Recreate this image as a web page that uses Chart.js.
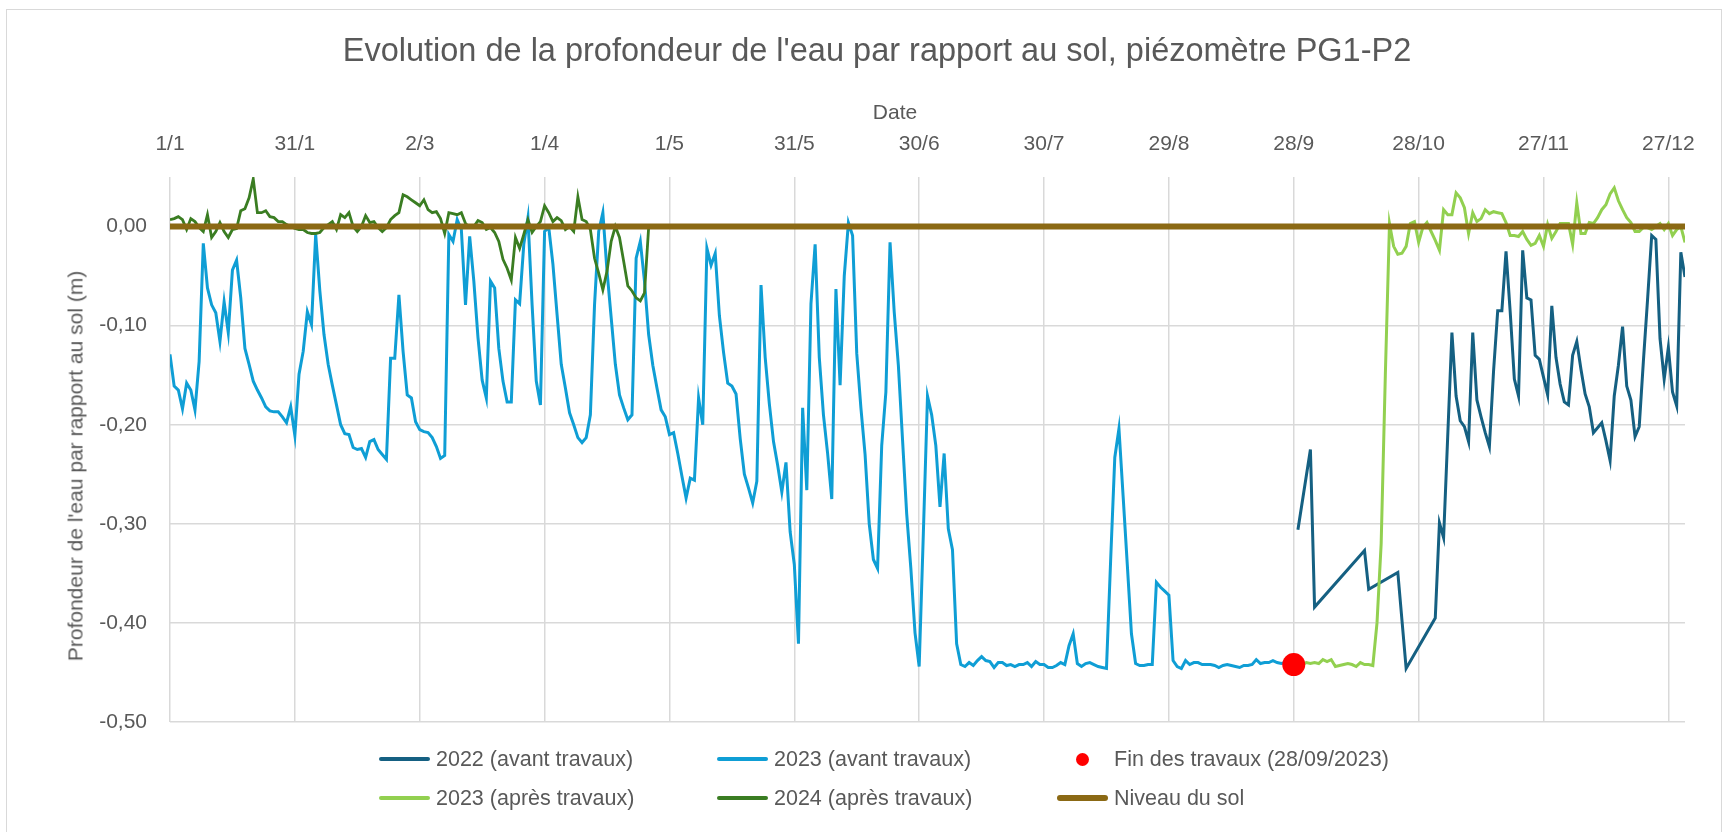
<!DOCTYPE html>
<html lang="fr">
<head>
  <meta charset="UTF-8" />
  <title>Piézomètre PG1-P2 – profondeur de l'eau</title>
  <script src="https://cdn.jsdelivr.net/npm/chart.js"></script>
  <style>
    html, body { margin: 0; padding: 0; background: #fff; }
    body {
      width: 1728px; height: 832px; overflow: hidden; position: relative;
      font-family: "Liberation Sans", Arial, sans-serif; color: #595959;
    }
    #frame {
      position: absolute; left: 6px; top: 9px; width: 1716px; height: 840px;
      border: 1.5px solid #d9d9d9; box-sizing: border-box;
    }
    #chart { position: absolute; left: 0; top: 0; }
    .lbl { position: absolute; white-space: nowrap; line-height: 1; transform: translate(-50%, -50%); }
    #title { left: 877px; top: 50px; font-size: 32.5px; }
    #xTitle { left: 895px; top: 111px; font-size: 21px; }
    #yTitle { left: 75px; top: 466px; font-size: 21px; transform: translate(-50%, -50%) rotate(-90deg); }
    .leg { position: absolute; height: 26px; display: flex; align-items: center; font-size: 21.5px; white-space: nowrap; }
    .sw { width: 51px; display: flex; align-items: center; justify-content: center; margin-right: 6px; }
    .sw span { display: block; }
  </style>
</head>
<body>
  <div id="frame"></div>
  <canvas id="chart" width="1728" height="832"></canvas>
  <div id="title" class="lbl">Evolution de la profondeur de l'eau par rapport au sol, piézomètre PG1-P2</div>
  <div id="xTitle" class="lbl">Date</div>
  <div id="yTitle" class="lbl">Profondeur de l'eau par rapport au sol (m)</div>
  <div id="legend"></div>

  <script>
    // ---- data (x = day of year) ----
    const xTickDays = [1, 31, 61, 91, 121, 151, 181, 211, 241, 271, 301, 331, 361];
    const xTickLabels = ['1/1', '31/1', '2/3', '1/4', '1/5', '31/5', '30/6', '30/7', '29/8', '28/9', '28/10', '27/11', '27/12'];
    const yTickValues = [0, -0.1, -0.2, -0.3, -0.4, -0.5];
    const yTickLabels = ['0,00', '-0,10', '-0,20', '-0,30', '-0,40', '-0,50'];

    // 2022 (avant travaux) – sparse readings
    const avant2022Days = [272, 275, 276, 288, 289, 296, 298, 305, 306, 307, 309, 310, 311, 312, 313, 314, 315, 316, 317, 318,
      319, 320, 321, 322, 323, 324, 325, 326, 327, 328, 329, 330, 331, 332, 333, 334, 335, 336, 337, 338,
      339, 340, 341, 342, 343, 344, 345, 346, 347, 348, 349, 350, 351, 352, 353, 354, 355, 356, 357, 358,
      359, 360, 361, 362, 363, 364, 365];
    const avant2022Vals = [-0.306, -0.225, -0.384, -0.327, -0.366, -0.349, -0.446, -0.395, -0.299, -0.314, -0.107, -0.171, -0.196, -0.202, -0.217, -0.107, -0.175, -0.192, -0.208, -0.222,
      -0.146, -0.085, -0.085, -0.025, -0.086, -0.154, -0.171, -0.024, -0.072, -0.074, -0.130, -0.134, -0.152, -0.170, -0.080, -0.132, -0.159, -0.177, -0.180, -0.130,
      -0.116, -0.144, -0.169, -0.182, -0.208, -0.203, -0.198, -0.216, -0.236, -0.171, -0.140, -0.101, -0.161, -0.175, -0.212, -0.202, -0.136, -0.074, -0.009, -0.013,
      -0.113, -0.154, -0.122, -0.167, -0.181, -0.026, -0.051];

    // 2023 (avant travaux) – daily from day 1 to day 271
    const avant2023Start = 1;
    const avant2023Vals = [
      -0.129, -0.161, -0.165, -0.184, -0.158, -0.165, -0.185, -0.136, -0.017, -0.062,
      -0.079, -0.087, -0.116, -0.076, -0.107, -0.044, -0.034, -0.072, -0.123, -0.139,
      -0.156, -0.165, -0.173, -0.182, -0.186, -0.187, -0.187, -0.192, -0.198, -0.182,
      -0.211, -0.149, -0.126, -0.086, -0.099, -0.008, -0.065, -0.109, -0.139, -0.160,
      -0.180, -0.200, -0.209, -0.210, -0.223, -0.225, -0.224, -0.233, -0.217, -0.215,
      -0.225, -0.230, -0.235, -0.133, -0.133, -0.069, -0.126, -0.170, -0.173, -0.197,
      -0.205, -0.207, -0.208, -0.213, -0.222, -0.234, -0.231, -0.008, -0.015, 0.007,
      -0.003, -0.079, -0.010, -0.055, -0.112, -0.155, -0.173, -0.055, -0.062, -0.123,
      -0.156, -0.177, -0.177, -0.074, -0.078, -0.018, 0.009, -0.079, -0.156, -0.180,
      -0.005, -0.001, -0.038, -0.089, -0.139, -0.163, -0.188, -0.200, -0.213, -0.218,
      -0.213, -0.190, -0.079, -0.005, 0.014, -0.045, -0.092, -0.139, -0.170, -0.183,
      -0.195, -0.190, -0.032, -0.015, -0.055, -0.109, -0.140, -0.163, -0.185, -0.192,
      -0.210, -0.208, -0.229, -0.252, -0.274, -0.254, -0.256, -0.173, -0.200, -0.022,
      -0.039, -0.027, -0.090, -0.127, -0.158, -0.161, -0.169, -0.214, -0.250, -0.264,
      -0.279, -0.257, -0.059, -0.132, -0.179, -0.217, -0.241, -0.268, -0.238, -0.308,
      -0.341, -0.421, -0.183, -0.266, -0.078, -0.018, -0.132, -0.190, -0.229, -0.275,
      -0.063, -0.160, -0.050, 0.004, -0.009, -0.128, -0.183, -0.230, -0.300, -0.336,
      -0.345, -0.221, -0.167, -0.016, -0.086, -0.140, -0.215, -0.290, -0.345, -0.410,
      -0.444, -0.310, -0.171, -0.190, -0.221, -0.283, -0.229, -0.305, -0.326, -0.421,
      -0.442, -0.444, -0.440, -0.443, -0.438, -0.434, -0.438, -0.439, -0.445, -0.440,
      -0.440, -0.443, -0.442, -0.444, -0.442, -0.442, -0.440, -0.444, -0.439, -0.442,
      -0.442, -0.445, -0.445, -0.443, -0.440, -0.442, -0.423, -0.411, -0.441, -0.444,
      -0.441, -0.440, -0.442, -0.444, -0.445, -0.446, -0.337, -0.233, -0.204, -0.272,
      -0.341, -0.411, -0.441, -0.443, -0.443, -0.442, -0.442, -0.359, -0.364, -0.368,
      -0.372, -0.438, -0.444, -0.446, -0.438, -0.442, -0.440, -0.440, -0.442, -0.442,
      -0.442, -0.443, -0.445, -0.443, -0.442, -0.443, -0.444, -0.445, -0.443, -0.443,
      -0.442, -0.437, -0.441, -0.440, -0.440, -0.438, -0.440, -0.441, -0.440, -0.441,
      -0.442
    ];

    // Fin des travaux (28/09/2023)
    const finTravauxDays = [271];
    const finTravauxVals = [-0.442];

    // 2023 (après travaux) – daily from day 271 to day 365
    const apres2023Start = 271;
    const apres2023Vals = [
      -0.442, -0.441, -0.442, -0.440, -0.441, -0.440, -0.441, -0.437, -0.439, -0.437,
      -0.444, -0.443, -0.442, -0.441, -0.442, -0.444, -0.440, -0.442, -0.442, -0.443,
      -0.400, -0.320, -0.150, 0.003, -0.020, -0.028, -0.027, -0.020, 0.003, 0.005,
      -0.016, -0.001, 0.004, -0.005, -0.014, -0.024, 0.017, 0.012, 0.012, 0.034,
      0.029, 0.019, -0.007, 0.014, 0.005, 0.008, 0.017, 0.013, 0.015, 0.014,
      0.013, 0.004, -0.009, -0.009, -0.010, -0.005, -0.013, -0.019, -0.017, -0.009,
      -0.020, 0.002, -0.012, -0.005, 0.003, 0.003, 0.003, -0.018, 0.024, -0.007,
      -0.007, 0.004, 0.003, 0.009, 0.017, 0.022, 0.033, 0.039, 0.026, 0.017,
      0.009, 0.004, -0.005, -0.005, -0.001, -0.001, -0.003, 0.000, 0.003, -0.003,
      0.003, -0.009, -0.003, 0.000, -0.016
    ];

    // 2024 (après travaux) – daily from day 1 to day 116
    const apres2024Start = 1;
    const apres2024Vals = [
      0.007, 0.008, 0.010, 0.007, -0.003, 0.008, 0.005, -0.001, -0.005, 0.012,
      -0.011, -0.005, 0.004, -0.005, -0.011, -0.003, -0.002, 0.016, 0.018, 0.029,
      0.048, 0.014, 0.014, 0.016, 0.010, 0.009, 0.005, 0.005, 0.002, 0.000,
      -0.002, -0.003, -0.003, -0.006, -0.007, -0.007, -0.006, -0.001, 0.002, 0.005,
      -0.003, 0.012, 0.009, 0.014, 0.000, -0.005, 0.000, 0.011, 0.004, 0.005,
      -0.001, -0.005, -0.001, 0.007, 0.011, 0.014, 0.032, 0.030, 0.027, 0.024,
      0.021, 0.027, 0.017, 0.014, 0.015, 0.008, -0.007, 0.014, 0.013, 0.012,
      0.014, 0.003, -0.001, 0.000, 0.006, 0.004, -0.003, -0.001, -0.006, -0.015,
      -0.033, -0.042, -0.054, -0.011, -0.022, -0.008, 0.007, -0.006, 0.000, 0.005,
      0.021, 0.014, 0.005, 0.009, 0.006, -0.003, 0.000, -0.005, 0.030, 0.007,
      0.005, -0.003, -0.032, -0.047, -0.064, -0.045, -0.015, 0.000, -0.011, -0.035,
      -0.060, -0.065, -0.072, -0.075, -0.067, -0.001
    ];

    // Niveau du sol
    const solDays = [1, 365];
    const solVals = [0, 0];

    // ---- helpers ----
    const pairs = (days, vals) => days.map((d, i) => ({ x: d, y: vals[i] }));
    const daily = (start, vals) => vals.map((v, i) => ({ x: start + i, y: v }));

    // plot area in page pixels
    const AREA = { left: 170, right: 1685, top: 177, bottom: 722 };
    const W = 1728, H = 832;
    const FONT = '"Liberation Sans", Arial, sans-serif';
    const TXT = '#595959';
    const GRID = '#d9d9d9';

    const lineDs = (label, data, color, width, order) => ({
      label, data, borderColor: color, backgroundColor: color,
      borderWidth: width, pointRadius: 0, tension: 0, fill: false, order
    });

    const datasets = [
      lineDs('2022 (avant travaux)', pairs(avant2022Days, avant2022Vals), '#156082', 3, 5),
      lineDs('2023 (avant travaux)', daily(avant2023Start, avant2023Vals), '#0f9ed5', 3, 4),
      {
        label: 'Fin des travaux (28/09/2023)', data: pairs(finTravauxDays, finTravauxVals),
        showLine: false, pointRadius: 11.5, pointBackgroundColor: '#ff0000', pointBorderWidth: 0,
        borderColor: '#ff0000', backgroundColor: '#ff0000', order: 0
      },
      lineDs('2023 (après travaux)', daily(apres2023Start, apres2023Vals), '#92d050', 3, 3),
      lineDs('2024 (après travaux)', daily(apres2024Start, apres2024Vals), '#3a7d22', 2.8, 2),
      Object.assign(lineDs('Niveau du sol', pairs(solDays, solVals), '#8b6914', 6, 1), { borderCapStyle: 'butt' })
    ];

    const chart = new Chart(document.getElementById('chart'), {
      type: 'line',
      data: { datasets },
      options: {
        responsive: false,
        animation: false,
        layout: { padding: { left: 0, top: 0, right: W - AREA.right, bottom: H - AREA.bottom } },
        plugins: {
          legend: { display: false },
          title: { display: false },
          tooltip: { enabled: false }
        },
        scales: {
          x: {
            type: 'linear', position: 'top', min: 1, max: 365,
            afterBuildTicks: (s) => { s.ticks = xTickDays.map(v => ({ value: v })); },
            afterFit: (s) => { s.height = AREA.top; },
            ticks: {
              autoSkip: false, maxRotation: 0, padding: 20, color: TXT,
              font: { family: FONT, size: 21 },
              callback: (v, i) => xTickLabels[i]
            },
            grid: { color: GRID, lineWidth: 1.5, drawTicks: false },
            border: { display: false }
          },
          y: {
            min: -0.5, max: 0.05,
            afterBuildTicks: (s) => { s.ticks = yTickValues.map(v => ({ value: v })); },
            afterFit: (s) => { s.width = AREA.left; },
            ticks: {
              padding: 23, color: TXT,
              font: { family: FONT, size: 21 },
              callback: (v, i) => yTickLabels[i]
            },
            grid: { color: GRID, lineWidth: 1.5, drawTicks: false },
            border: { display: false }
          }
        }
      }
    });

    // ---- legend, 2 rows x 3 columns, built from the datasets ----
    const legCols = [379, 717, 1057];
    const legRows = [759, 798];
    const legend = document.getElementById('legend');
    chart.data.datasets.forEach((ds, i) => {
      const item = document.createElement('div');
      item.className = 'leg';
      item.style.left = legCols[i % 3] + 'px';
      item.style.top = (legRows[Math.floor(i / 3)] - 13) + 'px';
      const sw = document.createElement('div');
      sw.className = 'sw';
      const mark = document.createElement('span');
      if (ds.showLine === false) {
        mark.style.cssText = 'width:13px;height:13px;border-radius:50%;background:' + ds.pointBackgroundColor;
      } else {
        const h = ds.borderWidth >= 5 ? 6 : 4;
        mark.style.cssText = 'width:51px;height:' + h + 'px;border-radius:' + h / 2 + 'px;background:' + ds.borderColor;
      }
      sw.appendChild(mark);
      item.appendChild(sw);
      item.appendChild(document.createTextNode(ds.label));
      legend.appendChild(item);
    });
  </script>
</body>
</html>
